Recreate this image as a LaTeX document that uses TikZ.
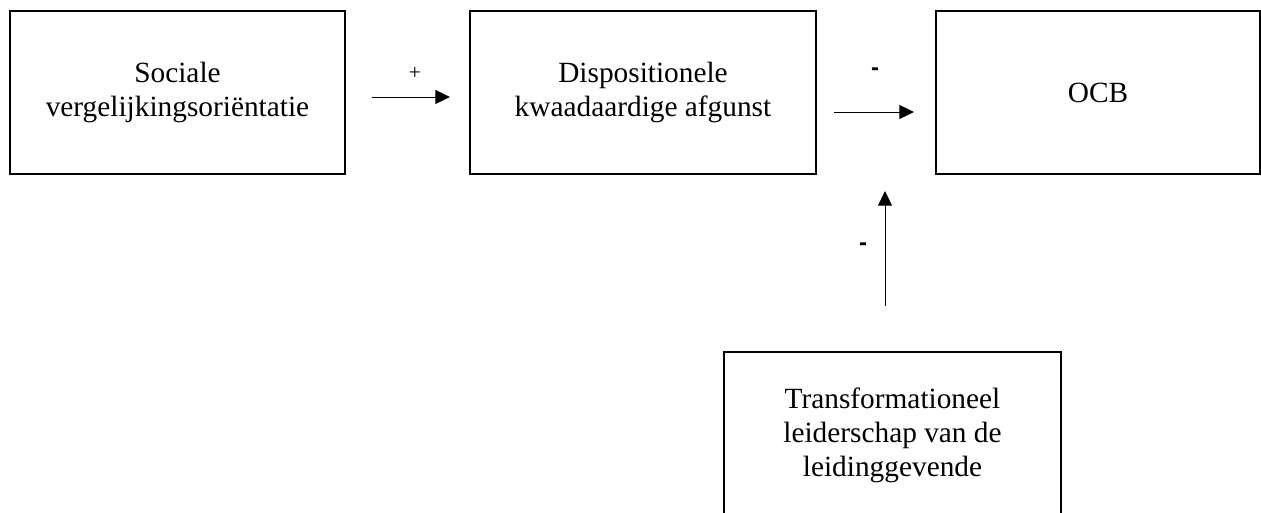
\documentclass[tikz,border=0pt]{standalone}
\usepackage{fontspec}
\setmainfont{Liberation Serif}
\setsansfont{Liberation Sans}
\usetikzlibrary{arrows.meta}

\begin{document}
\begin{tikzpicture}[x=0.75pt, y=-0.75pt,
    box/.style={draw, line width=1.5pt, align=center, inner sep=0pt,
      font=\fontsize{22}{25.5}\selectfont},
    link/.style={line width=0.75pt, -{Triangle[length=11pt, width=10.5pt]}},
    sign/.style={font=\fontsize{16}{18}\selectfont},
    minus/.style={font=\fontsize{18}{20}\sffamily\bfseries}]

        \clip (0,0) rectangle (1261,512);

        \node[box, minimum width=251.25pt, minimum height=122.25pt] (svo) at (177.5,92.5) {Sociale\\vergelijkingsoriëntatie};
        \node[box, minimum width=259.5pt, minimum height=122.25pt] (dka) at (643,92.5) {Dispositionele\\kwaadaardige afgunst};
        \node[box, minimum width=243pt, minimum height=122.25pt] (ocb) at (1098,92.5) {OCB};
        \node[box, minimum width=252.75pt, minimum height=124.5pt] (tl) at (892.5,435) {Transformationeel\\leiderschap van de\\leidinggevende};

        \coordinate (a1) at (372,97);
        \coordinate (b1) at (450,97);
        \coordinate (a2) at (834,112);
        \coordinate (b2) at (914,112);
        \coordinate (a3) at (885,306);
        \coordinate (b3) at (885,191);

        \draw[link] (a1) -- (b1);
        \draw[link] (a2) -- (b2);
        \draw[link] (a3) -- (b3);

        \node[sign] (s1) at (415,73) {+};
        \node[minus] (s2) at (875,72) {-};
        \node[minus] (s3) at (863,247) {-};

      \end{tikzpicture}
\end{document}
